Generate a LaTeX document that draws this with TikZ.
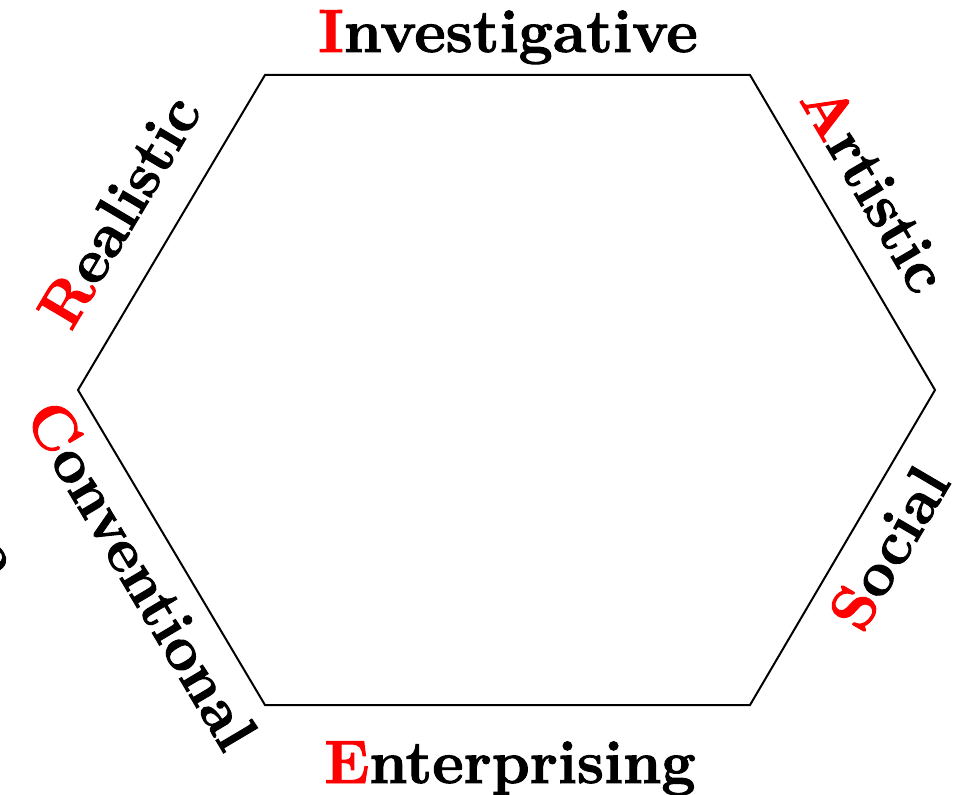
\documentclass[tikz,border=0pt]{standalone}
\usepackage{fontspec}
\setmainfont{Latin Modern Roman}[BoldFeatures={FakeBold=1.6}]
\usetikzlibrary{calc}
\begin{document}
\begin{tikzpicture}[x=0.5pt,y=-0.5pt,
  lbl/.style={font=\fontsize{30.5}{36}\selectfont\bfseries, inner sep=0pt},
  hexline/.style={line width=1pt, line join=miter}]
\useasboundingbox (0,0) rectangle (961,795);
\coordinate (v1) at (265,75);
\coordinate (v2) at (750,75);
\coordinate (v3) at (935,390);
\coordinate (v4) at (750,705);
\coordinate (v5) at (265,705);
\coordinate (v6) at (78,390);
\draw[hexline] (v1) -- (v2) -- (v3) -- (v4) -- (v5) -- (v6) -- cycle;
\node[lbl, anchor=base] (inv) at (508,52) {\textcolor{red}{I}nvestigative};
\node[lbl, anchor=base] (ent) at (510,783) {\textcolor{red}{E}nterprising};
\node[lbl, rotate=59.3] (rea) at (119,211) {\textcolor{red}{R}ealistic};
\node[lbl, rotate=-59.6] (art) at (875,188) {\textcolor{red}{A}rtistic};
\node[lbl, rotate=59.6] (soc) at (889,548) {\textcolor{red}{S}ocial};
\node[lbl, rotate=-59.3] (con) at (142,575) {\textcolor{red}{C}onventional};
\node[lbl, rotate=-59.3] (ecut) at (-9,559) {e};
\end{tikzpicture}
\end{document}
